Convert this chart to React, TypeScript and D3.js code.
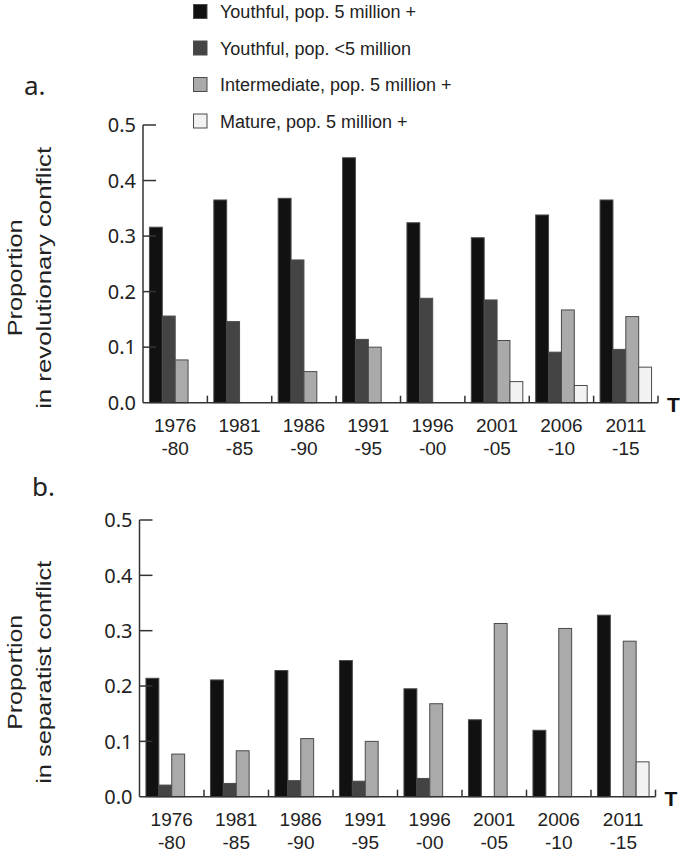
import React from 'react'
import * as d3 from 'd3'

// периоды (две строки подписи под осью X)
const periodStart = ['1976', '1981', '1986', '1991', '1996', '2001', '2006', '2011']
const periodEnd = ['-80', '-85', '-90', '-95', '-00', '-05', '-10', '-15']

const seriesNames = [
  'Youthful, pop. 5 million +',
  'Youthful, pop. <5 million',
  'Intermediate, pop. 5 million +',
  'Mature, pop. 5 million +'
]
const seriesColors = ['#111111', '#444444', '#aaaaaa', '#f2f2f2']

// a. revolutionary conflict
const revYouthfulLarge = [0.316, 0.365, 0.368, 0.441, 0.324, 0.297, 0.338, 0.365]
const revYouthfulSmall = [0.156, 0.146, 0.257, 0.114, 0.188, 0.185, 0.091, 0.096]
const revIntermediate = [0.077, 0, 0.056, 0.1, 0, 0.112, 0.167, 0.155]
const revMature = [0, 0, 0, 0, 0, 0.038, 0.031, 0.064]

// b. separatist conflict
const sepYouthfulLarge = [0.214, 0.211, 0.228, 0.246, 0.195, 0.139, 0.12, 0.328]
const sepYouthfulSmall = [0.021, 0.024, 0.029, 0.028, 0.033, 0, 0, 0]
const sepIntermediate = [0.077, 0.083, 0.105, 0.1, 0.168, 0.313, 0.304, 0.281]
const sepMature = [0, 0, 0, 0, 0, 0, 0, 0.063]

const yTicks = [0, 0.1, 0.2, 0.3, 0.4, 0.5]

interface PanelProps {
  letter: string
  titleLine2: string
  series: number[][]
  left: number
  right: number
  top: number
  bottom: number
  letterX: number
  letterY: number
  titleLens: [number, number]
}

const Panel: React.FC<PanelProps> = ({
  letter, titleLine2, series, left, right, top, bottom, letterX, letterY, titleLens
}) => {
  const x0 = d3.scaleBand<number>()
    .domain(d3.range(periodStart.length))
    .range([left, right])
    .padding(0)
  const bw = x0.bandwidth()
  const x1 = d3.scaleBand<number>()
    .domain(d3.range(seriesNames.length))
    .range([bw * 0.1, bw * 0.9])
    .padding(0)
  const y = d3.scaleLinear().domain([0, 0.5]).range([bottom, top])
  const fmt = d3.format('.1f')
  const midY = (top + bottom) / 2 + 14

  return (
    <g>
      <text x={letterX} y={letterY} fontFamily="'Noto Sans', sans-serif" fontSize={26} fill="#222">{letter}</text>

      {/* заголовок оси Y */}
      <g fontFamily="'Liberation Sans', Arial, sans-serif" fontSize={21} fill="#222" textAnchor="middle">
        <text transform={`translate(22,${midY}) rotate(-90)`} textLength={titleLens[0]} lengthAdjust="spacingAndGlyphs">Proportion</text>
        <text transform={`translate(51,${midY}) rotate(-90)`} textLength={titleLens[1]} lengthAdjust="spacingAndGlyphs">{titleLine2}</text>
      </g>

      {/* столбцы */}
      {series.map((vals, si) =>
        vals.map((v, i) => v > 0 ? (
          <rect
            key={`${si}-${i}`}
            x={(x0(i) as number) + (x1(si) as number)}
            y={y(v)}
            width={x1.bandwidth()}
            height={y(0) - y(v)}
            fill={seriesColors[si]}
            stroke="#4a4a4a"
            strokeWidth={1}
          />
        ) : null)
      )}

      {/* ось Y */}
      <line x1={left} x2={left} y1={y(0.5)} y2={y(0)} stroke="#333" strokeWidth={1.5} />
      {yTicks.map(t => (
        <g key={t}>
          {t > 0 && <line x1={left} x2={left + 13} y1={y(t)} y2={y(t)} stroke="#333" strokeWidth={1.5} />}
          <text x={left - 7} y={y(t)} dy="0.36em" textAnchor="end" fontFamily="'Noto Sans', sans-serif" fontSize={20} fill="#222">{fmt(t)}</text>
        </g>
      ))}

      {/* ось X */}
      <line x1={left} x2={right} y1={y(0)} y2={y(0)} stroke="#333" strokeWidth={1.5} />
      {periodStart.map((p, i) => (
        <g key={p}>
          <line x1={(x0(i) as number) + bw} x2={(x0(i) as number) + bw} y1={y(0)} y2={y(0) - 7} stroke="#333" strokeWidth={1.5} />
          <text x={(x0(i) as number) + bw / 2} y={y(0) + 29} textAnchor="middle" fontFamily="'Liberation Sans', Arial, sans-serif" fontSize={19} fill="#222">{p}</text>
          <text x={(x0(i) as number) + bw / 2} y={y(0) + 52} textAnchor="middle" fontFamily="'Liberation Sans', Arial, sans-serif" fontSize={19} fill="#222">{periodEnd[i]}</text>
        </g>
      ))}
      <text x={right + 9} y={y(0) + 9} fontFamily="'Liberation Sans', Arial, sans-serif" fontWeight="bold" fontSize={21} fill="#111">T</text>
    </g>
  )
}

export default function App() {
  return (
    <svg width={685} height={853} style={{ position: 'absolute', left: 0, top: 0, background: '#fff' }}>
      {/* легенда */}
      <g fontFamily="'Liberation Sans', Arial, sans-serif" fontSize={18} fill="#222">
        {seriesNames.map((s, i) => (
          <g key={s} transform={`translate(193,${4 + i * 36.5})`}>
            <rect x={0.5} y={0.5} width={13.5} height={14} fill={seriesColors[i]} stroke="#4a4a4a" strokeWidth={1} />
            <text x={27} y={14}>{s}</text>
          </g>
        ))}
      </g>

      <Panel
        letter="a."
        titleLine2="in revolutionary conflict"
        series={[revYouthfulLarge, revYouthfulSmall, revIntermediate, revMature]}
        left={143}
        right={658}
        top={125}
        bottom={402.7}
        letterX={24}
        letterY={95}
        titleLens={[117, 262]}
      />
      <Panel
        letter="b."
        titleLine2="in separatist conflict"
        series={[sepYouthfulLarge, sepYouthfulSmall, sepIntermediate, sepMature]}
        left={139.5}
        right={655.5}
        top={520}
        bottom={796.7}
        letterX={32}
        letterY={496}
        titleLens={[115, 223]}
      />
    </svg>
  )
}
